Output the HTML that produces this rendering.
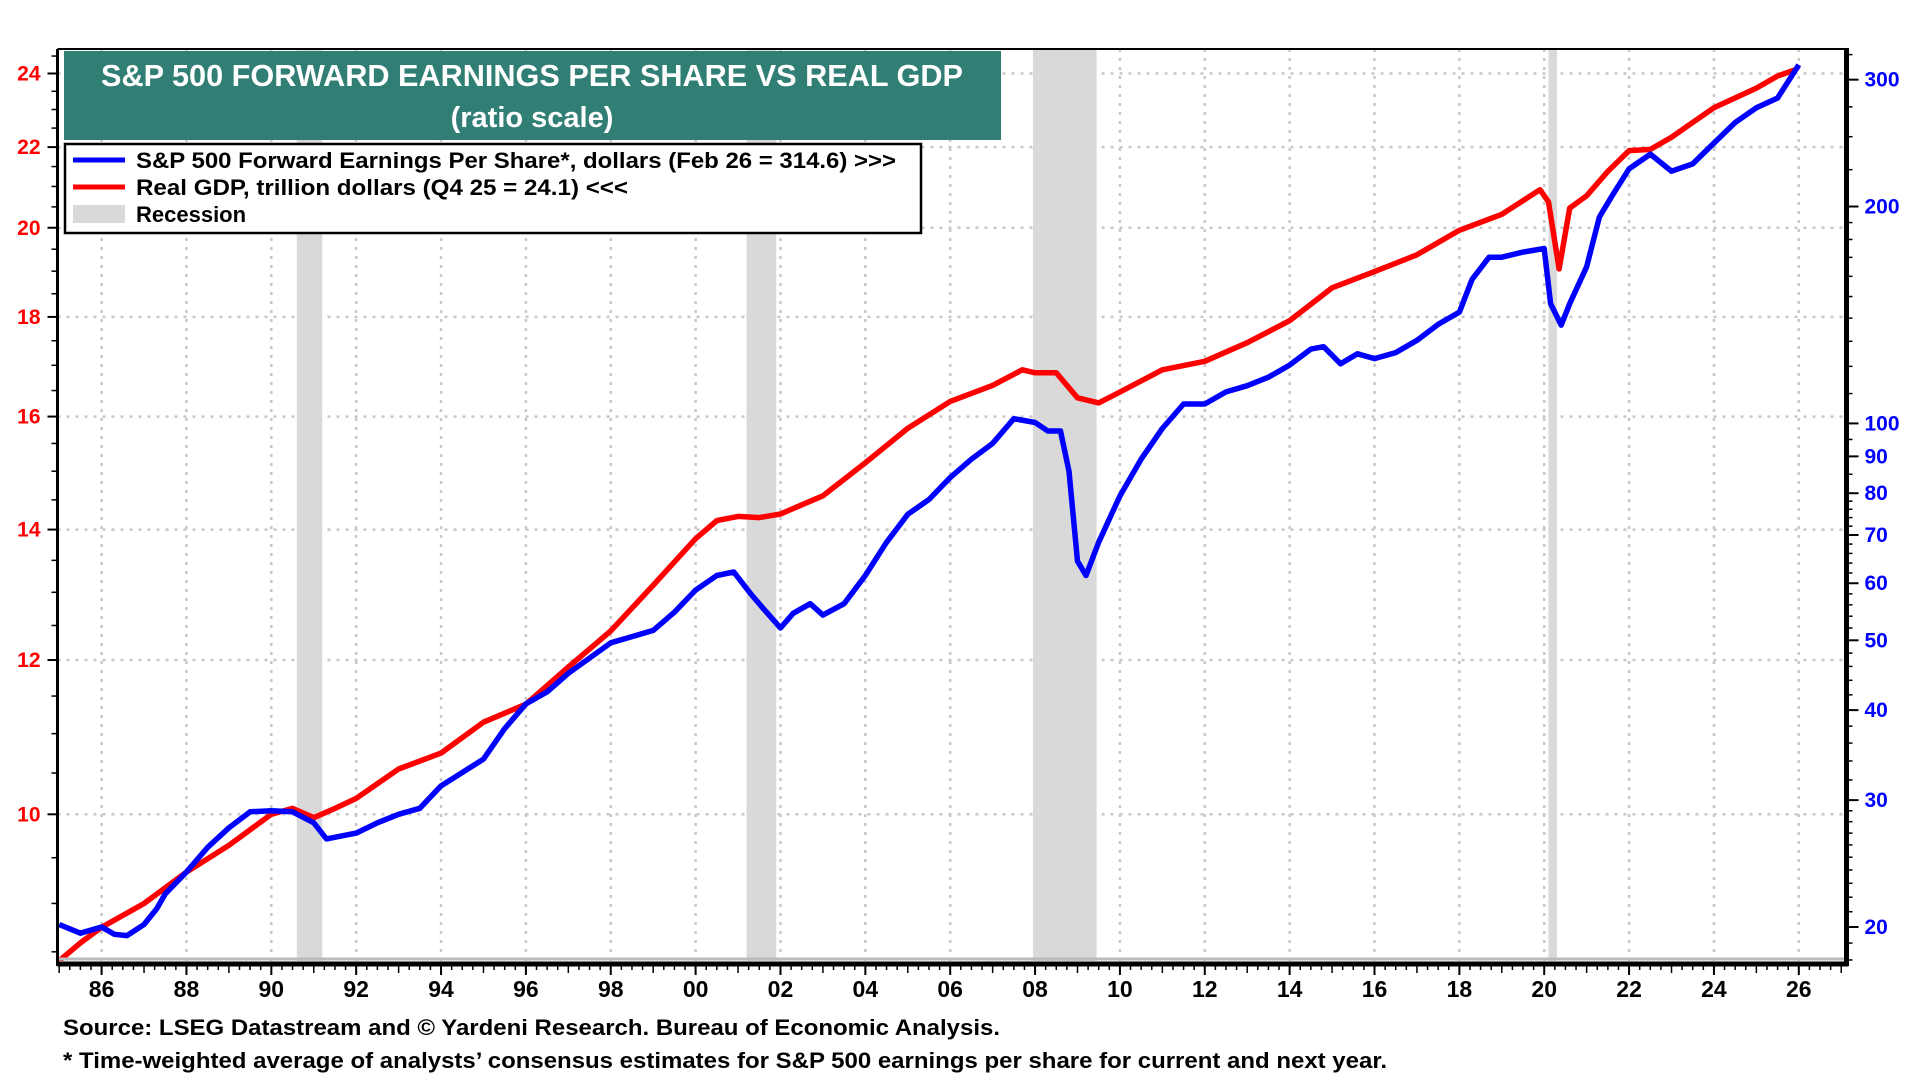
<!DOCTYPE html>
<html><head><meta charset="utf-8"><style>
html,body{margin:0;padding:0;background:#fff;}
svg{display:block;font-family:"Liberation Sans",Arial,sans-serif;}
</style></head><body>
<svg id="chart" width="1920" height="1080" viewBox="0 0 1920 1080">
<g id="grid"></g>
<g id="recessions"></g>
<g id="series"></g>
<g id="axes"></g>
<g>
<rect x="64" y="51" width="937" height="89" fill="#317f74"/>
<text x="532" y="86" text-anchor="middle" fill="#fff" font-size="31" font-weight="bold" textLength="862" lengthAdjust="spacingAndGlyphs">S&amp;P 500 FORWARD EARNINGS PER SHARE VS REAL GDP</text>
<text x="532" y="127" text-anchor="middle" fill="#fff" font-size="29" font-weight="bold">(ratio scale)</text>
</g>
<g>
<rect x="65" y="144" width="856" height="89" fill="#fff" stroke="#000" stroke-width="2.5"/>
<g><line x1="73" y1="160" x2="125" y2="160" stroke="#0000ff" stroke-width="5"/>
<text x="136" y="168" font-size="22" font-weight="bold" textLength="760" lengthAdjust="spacingAndGlyphs">S&amp;P 500 Forward Earnings Per Share*, dollars (Feb 26 = 314.6) &gt;&gt;&gt;</text></g>
<g><line x1="73" y1="187" x2="125" y2="187" stroke="#ff0000" stroke-width="5"/>
<text x="136" y="195" font-size="22" font-weight="bold" textLength="492" lengthAdjust="spacingAndGlyphs">Real GDP, trillion dollars (Q4 25 = 24.1) &lt;&lt;&lt;</text></g>
<g><rect x="73" y="205" width="52" height="18" fill="#d9d9d9"/>
<text x="136" y="222" font-size="22" font-weight="bold">Recession</text></g>
</g>
<text x="63" y="1035" font-size="22" font-weight="bold" textLength="937" lengthAdjust="spacingAndGlyphs">Source: LSEG Datastream and © Yardeni Research. Bureau of Economic Analysis.</text>
<text x="63" y="1068" font-size="22" font-weight="bold" textLength="1324" lengthAdjust="spacingAndGlyphs">* Time-weighted average of analysts’ consensus estimates for S&amp;P 500 earnings per share for current and next year.</text>
</svg>
<script>
const gdpYears=[1985.0,1985.5,1986.0,1987.0,1988.0,1989.0,1990.0,1990.5,1991.0,1991.5,1992.0,1993.0,1994.0,1995.0,1996.0,1997.0,1998.0,1999.0,2000.0,2000.5,2001.0,2001.5,2002.0,2003.0,2004.0,2005.0,2006.0,2007.0,2007.7,2008.0,2008.5,2009.0,2009.5,2010.0,2011.0,2012.0,2013.0,2014.0,2015.0,2016.0,2017.0,2018.0,2019.0,2019.9,2020.1,2020.35,2020.6,2021.0,2021.5,2022.0,2022.5,2023.0,2024.0,2025.0,2025.5,2025.9];
const gdpValues=[8.41,8.59,8.75,9.00,9.34,9.64,10.0,10.07,9.96,10.07,10.19,10.55,10.75,11.15,11.39,11.90,12.42,13.11,13.85,14.15,14.22,14.20,14.26,14.57,15.15,15.78,16.29,16.60,16.91,16.85,16.85,16.36,16.26,16.47,16.91,17.08,17.46,17.92,18.63,18.99,19.37,19.94,20.32,20.92,20.62,19.05,20.47,20.77,21.38,21.91,21.94,22.26,23.05,23.59,23.93,24.1];
const epsYears=[1985.0,1985.5,1986.0,1986.3,1986.6,1987.0,1987.3,1987.5,1988.0,1988.5,1989.0,1989.5,1990.0,1990.5,1991.0,1991.3,1992.0,1992.5,1993.0,1993.5,1994.0,1995.0,1995.5,1996.0,1996.5,1997.0,1998.0,1998.5,1999.0,1999.5,2000.0,2000.5,2000.9,2001.3,2001.6,2002.0,2002.3,2002.7,2003.0,2003.5,2004.0,2004.5,2005.0,2005.5,2006.0,2006.5,2007.0,2007.5,2008.0,2008.3,2008.6,2008.8,2009.0,2009.2,2009.5,2010.0,2010.5,2011.0,2011.5,2012.0,2012.5,2013.0,2013.5,2014.0,2014.5,2014.8,2015.2,2015.6,2016.0,2016.5,2017.0,2017.5,2018.0,2018.3,2018.7,2019.0,2019.5,2020.0,2020.15,2020.4,2020.6,2021.0,2021.3,2021.6,2022.0,2022.5,2023.0,2023.5,2024.0,2024.5,2025.0,2025.5,2026.0];
const epsValues=[20.16,19.61,20.0,19.54,19.46,20.16,21.21,22.23,23.85,25.8,27.46,28.9,29.0,28.9,27.9,26.5,27.0,27.9,28.67,29.23,31.4,34.2,37.7,40.8,42.4,45.0,49.6,50.6,51.6,54.7,58.7,61.5,62.2,58.0,55.3,52.0,54.5,56.2,54.2,56.2,61.5,68.4,74.8,78.4,84.1,89.2,93.8,101.5,100.3,97.6,97.6,85.8,64.4,61.5,68.4,79.3,89.2,98.4,106.4,106.4,110.6,112.8,115.9,120.5,126.8,127.8,121.0,124.9,123.0,125.4,130.4,137.2,142.7,158.5,170.1,170.1,172.9,174.9,146.6,136.9,146.6,164.9,193.4,207.0,225.6,236.4,223.9,229.2,244.9,261.6,274.2,282.9,314.6];
const recStart=[1990.6,2001.2,2007.95,2020.1];
const recEnd=[1991.2,2001.9,2009.45,2020.3];
const leftTicks=[10,12,14,16,18,20,22,24];
const rightTicks=[20,30,40,50,60,70,80,90,100,200,300];
const xTickYears=[1986,1988,1990,1992,1994,1996,1998,2000,2002,2004,2006,2008,2010,2012,2014,2016,2018,2020,2022,2024,2026];

const NS="http://www.w3.org/2000/svg";
const L=57.5,R=1846.5,T=49,B=961;
function x(t){return 101.6+(t-1986)*42.43;}
function yL(v){return 814.3-846.2*Math.log(v/10);}
function yR(v){return 927-312.9*Math.log(v/20);}
function mk(tag,attrs,parent){const e=document.createElementNS(NS,tag);for(const k in attrs)e.setAttribute(k,attrs[k]);parent.appendChild(e);return e;}
const grid=document.getElementById('grid'),rec=document.getElementById('recessions'),ser=document.getElementById('series'),ax=document.getElementById('axes');

mk('rect',{x:L,y:T,width:R-L,height:B-T,fill:'#fff'},grid);
leftTicks.forEach(v=>{const g=mk('line',{x1:L,x2:R,y1:yL(v),y2:yL(v),stroke:'#c8c8c8','stroke-width':2.5,'stroke-dasharray':'3 6'},grid);

});
xTickYears.forEach(t=>{const g=mk('line',{x1:x(t),x2:x(t),y1:T,y2:B,stroke:'#c8c8c8','stroke-width':2.5,'stroke-dasharray':'3 6'},grid);

});

recStart.forEach((s,i)=>{const r=mk('rect',{x:x(s),y:T,width:x(recEnd[i])-x(s),height:B-T,fill:'#d9d9d9'},rec);

});

function path(xs,vs,f){return xs.map((t,i)=>(i?'L':'M')+x(t).toFixed(1)+','+f(vs[i]).toFixed(1)).join(' ');}
const cp=mk('clipPath',{id:'clip'},ser);mk('rect',{x:L,y:T,width:R-L,height:B-T},cp);
const gl=mk('path',{d:path(gdpYears,gdpValues,yL),fill:'none',stroke:'#ff0000','stroke-width':5.5,'stroke-linejoin':'round','clip-path':'url(#clip)'},ser);


const el=mk('path',{d:path(epsYears,epsValues,yR),fill:'none',stroke:'#0000ff','stroke-width':5.5,'stroke-linejoin':'round','clip-path':'url(#clip)'},ser);



mk('line',{x1:L,x2:R,y1:T,y2:T,stroke:'#000','stroke-width':2},ax);
mk('line',{x1:L,x2:R,y1:B-2,y2:B-2,stroke:'#bbb','stroke-width':3},ax);
mk('line',{x1:L,x2:R+2,y1:B+3,y2:B+3,stroke:'#000','stroke-width':5},ax);
mk('line',{x1:L,x2:L,y1:T,y2:B+5,stroke:'#000','stroke-width':3},ax);
mk('line',{x1:R,x2:R,y1:T-1,y2:B+5,stroke:'#000','stroke-width':5},ax);
for(let t=1985;t<=2027;t+=0.25){if(x(t)<L||x(t)>R)continue;const maj=Math.abs(t-Math.round(t))<1e-6;mk('line',{x1:x(t),x2:x(t),y1:B+5,y2:B+(maj?12:9),stroke:'#000','stroke-width':1.5},ax);}
xTickYears.forEach(t=>{mk('line',{x1:x(t),x2:x(t),y1:B+5,y2:B+14,stroke:'#000','stroke-width':2},ax);
const tx=mk('text',{x:x(t),y:B+36,'text-anchor':'middle','font-size':23,'font-weight':'bold'},ax);tx.textContent=String(t%100).padStart(2,'0');

});
for(let v=8.5;v<=24.6;v+=0.5){mk('line',{x1:L-6,x2:L,y1:yL(v),y2:yL(v),stroke:'#000','stroke-width':1.5},ax);}
leftTicks.forEach(v=>{mk('line',{x1:L-10,x2:L,y1:yL(v),y2:yL(v),stroke:'#000','stroke-width':2},ax);
const tx=mk('text',{x:L-17,y:yL(v)+7,'text-anchor':'end','font-size':21,'font-weight':'bold',fill:'#ff0000'},ax);tx.textContent=v;

});
[18,19,20,21,22,23,24,25,26,27,28,29,30,32,34,36,38,40,42,44,46,48,50,52,54,56,58,60,62,64,66,68,70,72,74,76,78,80,85,90,95,100,110,120,130,140,150,160,170,180,190,200,225,250,275,300,325].forEach(v=>{const y=yR(v);if(y<T||y>B)return;mk('line',{x1:R,x2:R+6,y1:y,y2:y,stroke:'#000','stroke-width':1.5},ax);});
rightTicks.forEach(v=>{mk('line',{x1:R,x2:R+12,y1:yR(v),y2:yR(v),stroke:'#000','stroke-width':2},ax);
const tx=mk('text',{x:R+18,y:yR(v)+7,'font-size':21,'font-weight':'bold',fill:'#0000ff'},ax);tx.textContent=v;

});
</script>
</body></html>
